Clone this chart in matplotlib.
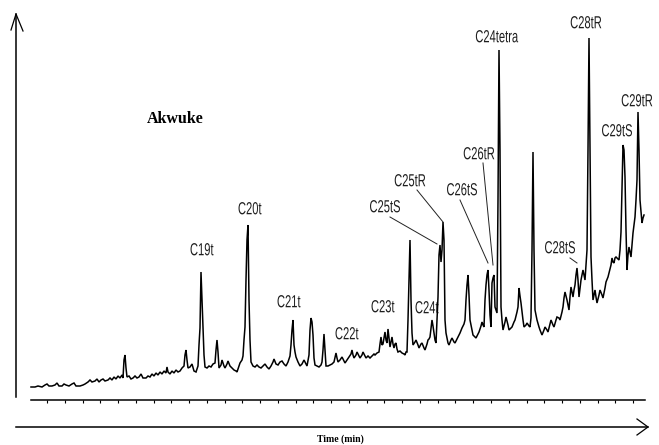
import matplotlib
matplotlib.use("Agg")
import matplotlib.pyplot as plt
import numpy as np
from matplotlib.font_manager import FontProperties
from matplotlib.patches import PathPatch
from matplotlib.textpath import TextPath
from matplotlib.transforms import Affine2D

# triterpane (m/z 191) trace, scan position vs. abundance above the time axis
scan = [
    31, 35, 38, 42, 45, 47, 49, 52, 55, 57,
    59, 62, 64, 66, 69, 72, 74, 76, 80, 83,
    85, 88, 90, 92, 95, 97, 99, 101, 103, 105,
    108, 110, 112, 114, 116, 118, 120, 122, 123, 124,
    125, 126, 127, 129, 131, 133, 135, 137, 139, 141,
    143, 146, 148, 150, 152, 154, 156, 158, 160, 162,
    164, 166, 167, 168, 170, 172, 174, 176, 178, 180,
    182, 184, 185, 186, 187, 188, 190, 192, 194, 196,
    198, 199, 200, 201, 202, 203, 204, 205, 207, 209,
    211, 213, 215, 216, 217, 218, 219, 221, 222, 224,
    225, 227, 228, 230, 232, 234, 236, 237, 239, 240,
    242, 243, 244, 245, 246, 247, 248, 249, 250, 251,
    253, 255, 257, 259, 261, 263, 265, 267, 269, 271,
    273, 274, 276, 278, 280, 282, 284, 286, 288, 290,
    291, 292, 293, 294, 295, 296, 298, 300, 302, 304,
    306, 307, 309, 310, 311, 312, 313, 314, 315, 317,
    319, 321, 322, 323, 324, 325, 326, 328, 330, 332,
    334, 336, 337, 338, 340, 342, 344, 345, 347, 349,
    351, 352, 353, 354, 356, 357, 359, 360, 362, 363,
    365, 366, 368, 370, 372, 374, 375, 377, 379, 380,
    381, 382, 383, 384, 385, 386, 387, 388, 389, 390,
    391, 392, 393, 394, 395, 396, 397, 398, 400, 402,
    404, 405, 406, 407, 408, 409, 410, 411, 412, 413,
    415, 416, 418, 419, 421, 422, 424, 425, 427, 428,
    429, 430, 431, 432, 433, 434, 435, 436, 437, 438,
    439, 440, 441, 442, 443, 444, 445, 446, 448, 449,
    451, 452, 454, 455, 457, 458, 460, 462, 464, 465,
    466, 467, 468, 469, 470, 472, 473, 475, 476, 478,
    479, 481, 482, 483, 484, 485, 486, 487, 488, 489,
    490, 491, 492, 493, 494, 495, 496, 497, 498, 499,
    500, 501, 502, 503, 505, 506, 508, 509, 511, 512,
    514, 515, 517, 518, 519, 520, 521, 523, 524, 526,
    527, 529, 530, 531, 532, 533, 534, 535, 536, 537,
    539, 540, 542, 544, 545, 547, 548, 550, 551, 553,
    554, 556, 557, 559, 560, 562, 563, 564, 565, 566,
    567, 568, 569, 570, 571, 572, 573, 574, 575, 576,
    577, 578, 579, 580, 581, 582, 583, 584, 585, 586,
    587, 588, 589, 590, 591, 592, 593, 594, 595, 596,
    597, 599, 600, 602, 603, 605, 606, 608, 609, 611,
    612, 613, 614, 615, 616, 618, 619, 620, 621, 622,
    623, 624, 625, 626, 627, 628, 629, 630, 631, 632,
    633, 634, 635, 636, 637, 638, 639, 640, 641, 642,
    643, 644,
]
abundance = [
    13, 13, 14, 13, 15, 16, 14, 14, 15, 17,
    14, 14, 16, 15, 14, 16, 17, 14, 14, 15,
    16, 18, 20, 18, 19, 21, 18, 20, 21, 19,
    20, 22, 20, 23, 21, 24, 22, 25, 22, 40,
    45, 32, 23, 24, 21, 22, 24, 22, 23, 26,
    22, 22, 24, 23, 26, 24, 27, 25, 28, 26,
    29, 27, 33, 28, 26, 29, 27, 30, 28, 29,
    32, 34, 45, 50, 40, 32, 33, 36, 29, 28,
    34, 55, 72, 128, 100, 73, 45, 33, 32, 34,
    33, 36, 37, 50, 60, 48, 32, 35, 40, 34,
    32, 36, 39, 34, 32, 30, 29, 28, 34, 37,
    40, 44, 60, 73, 120, 160, 175, 100, 60, 38,
    34, 33, 35, 33, 32, 34, 36, 33, 31, 34,
    38, 41, 36, 35, 38, 39, 36, 34, 38, 44,
    55, 70, 80, 55, 48, 43, 38, 34, 36, 40,
    36, 34, 45, 70, 82, 78, 65, 42, 35, 34,
    33, 35, 38, 50, 66, 50, 34, 34, 35, 36,
    38, 47, 42, 38, 40, 43, 39, 37, 40, 43,
    46, 50, 45, 42, 45, 48, 44, 42, 45, 48,
    44, 42, 44, 42, 44, 46, 45, 47, 48, 56,
    63, 55, 56, 62, 68, 60, 57, 71, 62, 53,
    58, 63, 56, 52, 56, 57, 51, 48, 49, 47,
    46, 45, 48, 48, 80, 120, 160, 100, 67, 55,
    58, 60, 55, 52, 56, 57, 52, 50, 56, 60,
    61, 63, 72, 80, 74, 67, 60, 57, 80, 103,
    145, 155, 138, 150, 178, 160, 80, 67, 57, 55,
    60, 62, 58, 57, 61, 63, 67, 72, 76, 80,
    100, 115, 125, 105, 80, 70, 65, 63, 62, 66,
    68, 74, 78, 75, 73, 100, 115, 125, 130, 110,
    85, 73, 117, 122, 125, 93, 90, 87, 200, 350,
    250, 93, 80, 70, 78, 83, 75, 70, 72, 73,
    78, 80, 88, 93, 112, 104, 97, 80, 73, 75,
    77, 74, 73, 82, 150, 248, 150, 90, 85, 80,
    73, 70, 65, 70, 73, 70, 68, 76, 80, 75,
    73, 80, 83, 82, 80, 88, 93, 102, 108, 104,
    100, 95, 90, 103, 113, 108, 103, 110, 115, 125,
    132, 120, 103, 112, 120, 125, 130, 125, 120, 135,
    150, 250, 362, 250, 143, 120, 100, 105, 110, 103,
    97, 105, 110, 105, 102, 112, 118, 123, 127, 135,
    142, 138, 137, 142, 143, 141, 140, 150, 168, 210,
    255, 250, 223, 170, 130, 145, 153, 148, 143, 155,
    167, 175, 183, 200, 220, 288, 250, 200, 188, 177,
    182, 185,
]

# peak labels and where they sit
peak_names = ["C19t", "C20t", "C21t", "C22t", "C23t", "C24t", "C25tS", "C25tR",
              "C26tS", "C26tR", "C24tetra", "C28tS", "C28tR", "C29tS", "C29tR"]
label_x = [202, 250, 289, 347, 383, 427, 385, 410, 462, 479, 497, 560, 586, 617, 637]
label_y = [151, 192, 99, 67, 94, 93, 194, 220, 211, 247, 364, 153, 378, 270, 300]

# leader lines from a label down to its peak
leader_names = ["C25tS", "C25tR", "C26tS", "C26tR", "C28tS"]
leader_from = [(390, 183), (417, 210), (460, 200), (483, 237), (570, 142)]
leader_to = [(437, 156), (443, 178), (488, 137), (493, 135), (577, 137)]


def narrow_label(ax, text, x, y, cap=12.5, squeeze=0.64):
    # condensed lettering: squash a normal sans outline horizontally
    tp = TextPath((0, 0), text, size=1, prop=FontProperties(family="Liberation Sans"))
    bb = tp.get_extents()
    s = cap / 0.716
    tr = (Affine2D()
          .translate(-(bb.x0 + bb.x1) / 2, -0.358)
          .scale(s * squeeze, s)
          .translate(x, y))
    ax.add_patch(PathPatch(tr.transform_path(tp), fc="#1e1e1e", ec="none", lw=0))


fig = plt.figure(figsize=(6.59, 4.45), dpi=100)
ax = fig.add_axes([0, 0, 1, 1])
ax.set_xlim(0, 659)
ax.set_ylim(-45, 400)
ax.axis("off")

ax.plot(scan, abundance, color="black", lw=1.1, solid_joinstyle="miter")

for name, x, y in zip(peak_names, label_x, label_y):
    narrow_label(ax, name, x, y)

for (x0, y0), (x1, y1) in zip(leader_from, leader_to):
    ax.plot([x0, x1], [y0, y1], color="#222222", lw=0.7)

serif = ["Liberation Serif", "DejaVu Serif"]
ax.text(175, 281, "Akwuke", ha="center", va="center", fontsize=11.5,
        family=serif, fontweight="bold")

# vertical abundance arrow
ax.plot([16, 16], [3, 386], color="black", lw=1.1)
ax.plot([11, 16, 23], [370, 386, 369], color="black", lw=0.9)

# time axis with ticks
tick_pos = 47 + 17.76 * np.arange(34)
ax.plot([31, 645], [0, 0], color="black", lw=1.1)
ax.vlines(tick_pos, -3, 0, color="black", lw=0.8)

# time arrow underneath
ax.plot([16, 648], [-27, -27], color="black", lw=1.1)
ax.plot([637, 648, 637], [-19, -27, -35], color="black", lw=0.9)
ax.text(340, -44.5, "Time (min)", ha="center", va="bottom", fontsize=7,
        family=serif, fontweight="bold")

fig.savefig("out.png", dpi=100)
